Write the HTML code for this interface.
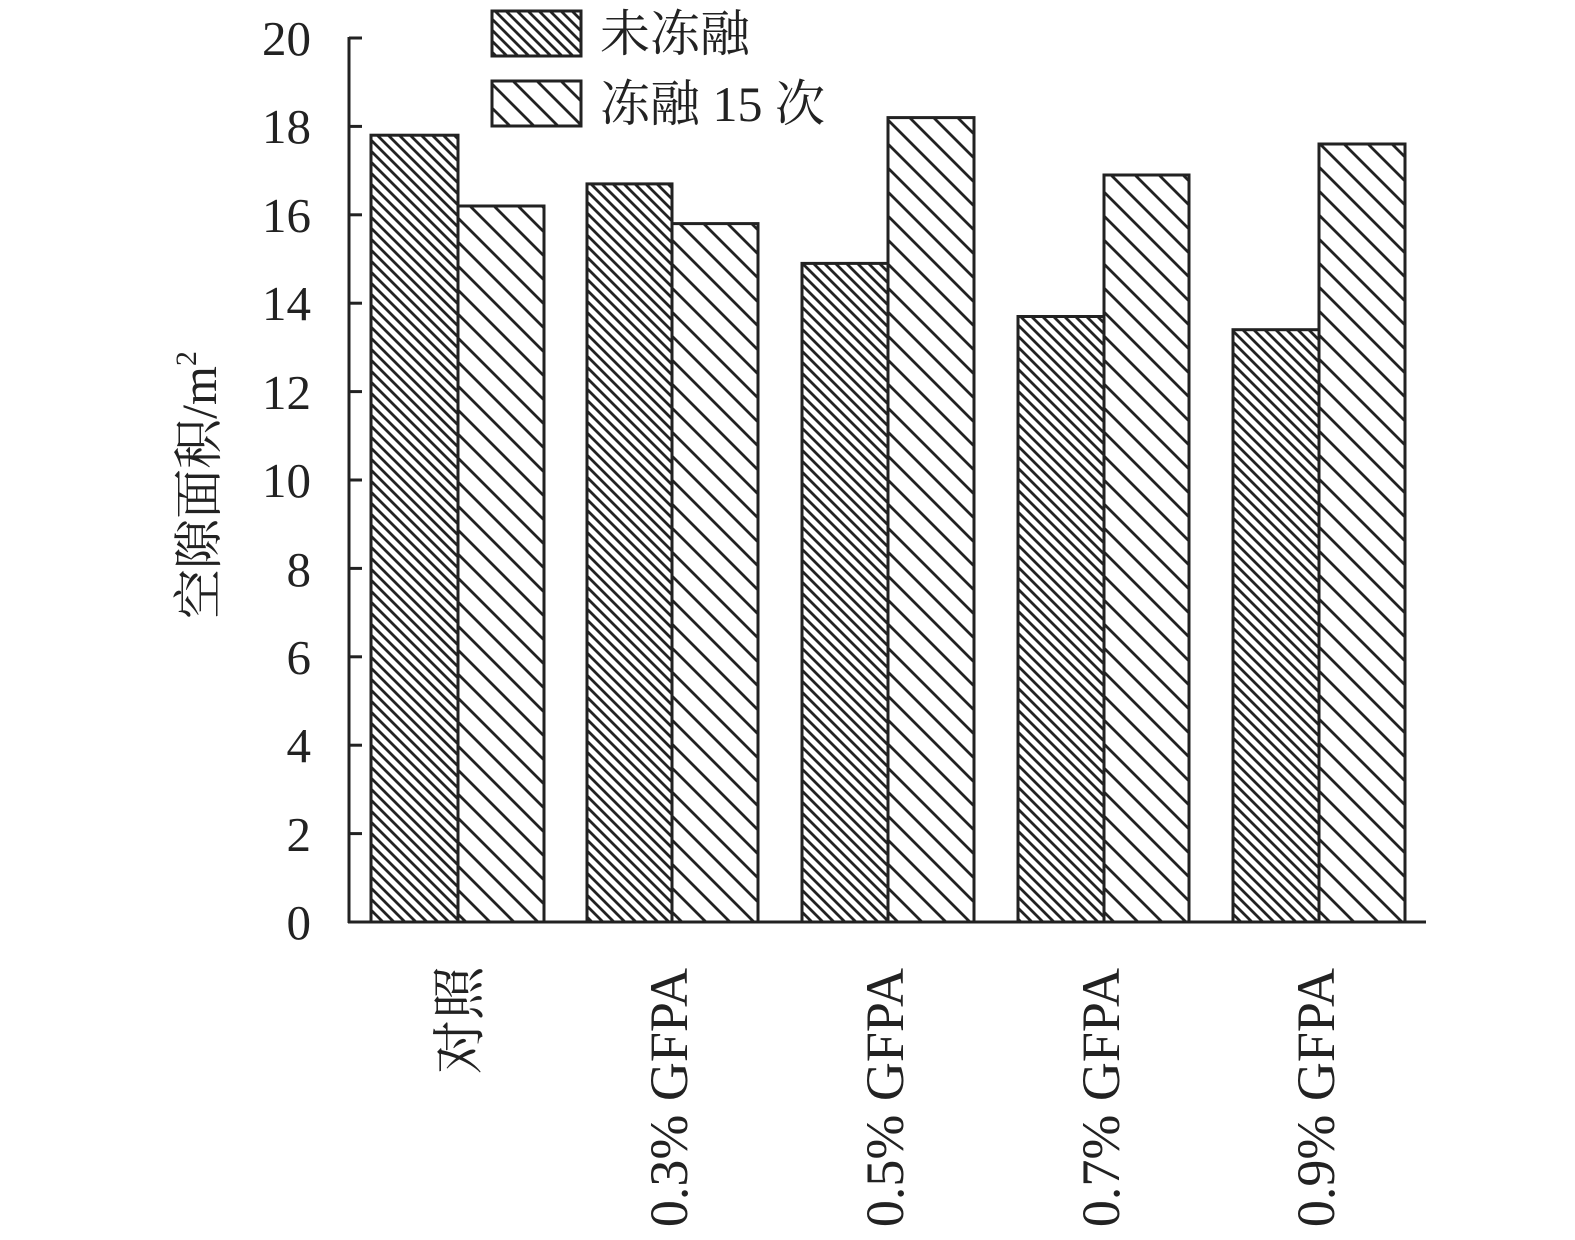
<!DOCTYPE html>
<html><head><meta charset="utf-8"><style>body{margin:0;background:#fff}svg{display:block}</style></head>
<body>
<svg width="1575" height="1240" viewBox="0 0 1575 1240" xmlns="http://www.w3.org/2000/svg" font-family="Liberation Serif, 'Noto Serif CJK SC', serif">
<defs>
<pattern id="d" patternUnits="userSpaceOnUse" width="11" height="11">
<path d="M-2,-2 L13,13 M-13,-2 L2,13 M9,-2 L24,13" stroke="#222" stroke-width="2.8"/>
</pattern>
<pattern id="s" patternUnits="userSpaceOnUse" width="24" height="24">
<path d="M-2,-2 L26,26 M-26,-2 L2,26 M22,-2 L50,26" stroke="#222" stroke-width="2.8"/>
</pattern>
</defs>
<g stroke="#222" stroke-width="3" fill="none">
<line x1="349" y1="37" x2="349" y2="923"/>
<line x1="348" y1="922" x2="1426" y2="922"/>
<line x1="349" y1="38" x2="362" y2="38"/>
<line x1="349" y1="126.4" x2="362" y2="126.4"/>
<line x1="349" y1="214.8" x2="362" y2="214.8"/>
<line x1="349" y1="303.2" x2="362" y2="303.2"/>
<line x1="349" y1="391.6" x2="362" y2="391.6"/>
<line x1="349" y1="480" x2="362" y2="480"/>
<line x1="349" y1="568.4" x2="362" y2="568.4"/>
<line x1="349" y1="656.8" x2="362" y2="656.8"/>
<line x1="349" y1="745.2" x2="362" y2="745.2"/>
<line x1="349" y1="833.6" x2="362" y2="833.6"/>
</g>
<g font-size="49" text-anchor="end" fill="#222">
<text x="311" y="55">20</text><text x="311" y="143">18</text><text x="311" y="232">16</text>
<text x="311" y="320">14</text><text x="311" y="409">12</text><text x="311" y="497">10</text>
<text x="311" y="586">8</text><text x="311" y="674">6</text><text x="311" y="762">4</text>
<text x="311" y="851">2</text><text x="311" y="939">0</text>
</g>
<g stroke="#222" stroke-width="3">
<rect x="371" y="135.2" width="87" height="786.8" fill="url(#d)"/>
<rect x="458" y="206" width="86" height="716" fill="url(#s)"/>
<rect x="587" y="183.9" width="85" height="738.1" fill="url(#d)"/>
<rect x="672" y="223.6" width="86" height="698.4" fill="url(#s)"/>
<rect x="802" y="263.4" width="86" height="658.6" fill="url(#d)"/>
<rect x="888" y="117.6" width="86" height="804.4" fill="url(#s)"/>
<rect x="1018" y="316.5" width="86" height="605.5" fill="url(#d)"/>
<rect x="1104" y="175" width="85" height="747" fill="url(#s)"/>
<rect x="1233" y="329.7" width="86" height="592.3" fill="url(#d)"/>
<rect x="1319" y="144" width="86" height="778" fill="url(#s)"/>
<rect x="492" y="11" width="89" height="45" fill="url(#d)"/>
<rect x="492" y="81" width="89" height="45" fill="url(#s)"/>
</g>
<g font-size="50" fill="#222">
<text x="600" y="51">未冻融</text>
<text x="600" y="121">冻融 15 次</text>
</g>
<text transform="translate(216,485) rotate(-90)" text-anchor="middle" font-size="50" fill="#222">空隙面积/m<tspan font-size="30" dy="-20">2</tspan></text>
<g font-size="54" fill="#222" text-anchor="end">
<text transform="translate(478,966) rotate(-90)">对照</text>
<text transform="translate(687,968) rotate(-90)">0.3% GFPA</text>
<text transform="translate(903,968) rotate(-90)">0.5% GFPA</text>
<text transform="translate(1119,968) rotate(-90)">0.7% GFPA</text>
<text transform="translate(1334,968) rotate(-90)">0.9% GFPA</text>
</g>
</svg>
</body></html>
